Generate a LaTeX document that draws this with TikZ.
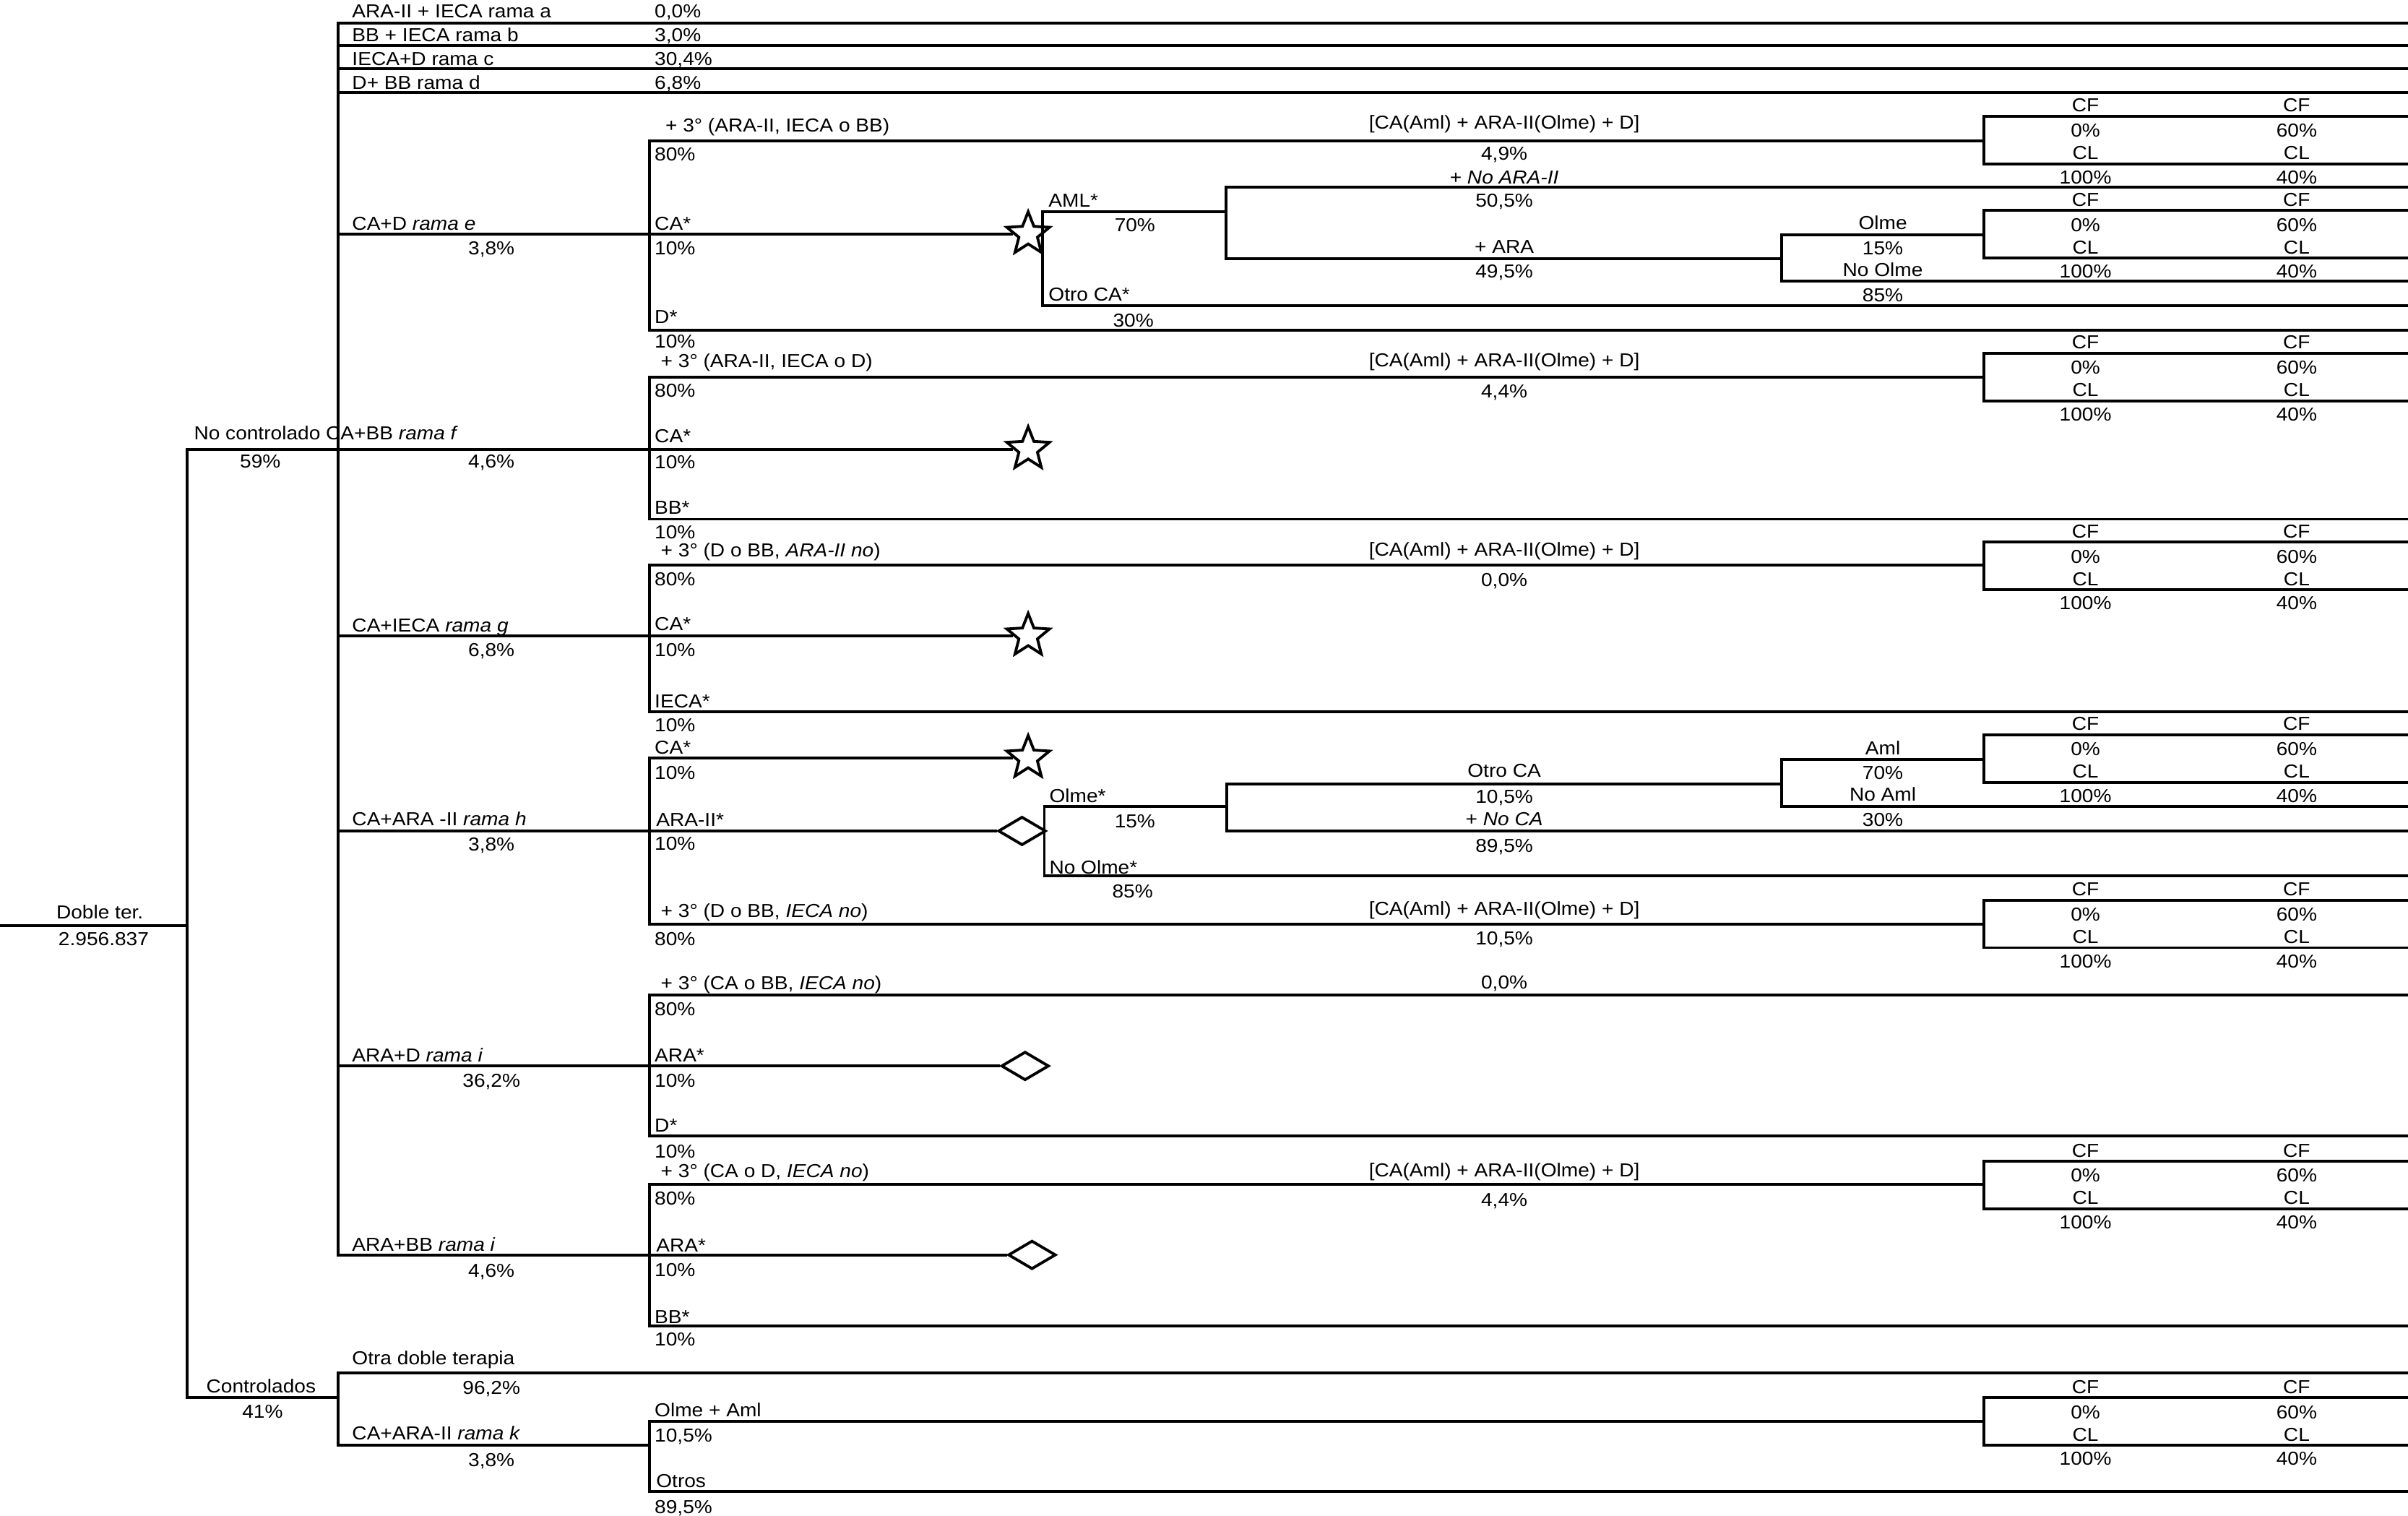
\documentclass[tikz,border=0pt]{standalone}
\usepackage{fontspec}
\setmainfont[FakeStretch=1.08]{Liberation Sans}
\usetikzlibrary{shapes.geometric}
\newcounter{nn}
\newcommand\fs{\fontsize{7.4}{8.9}\selectfont}
\newcommand\txl[3]{\stepcounter{nn}\node[anchor=base west] (t\arabic{nn}) at (#1,#2+4.4) {#3};}
\newcommand\txc[3]{\stepcounter{nn}\node[anchor=base] (t\arabic{nn}) at (#1,#2+4.4) {#3};}
\newcommand\cfbox[2]{%
  \coordinate (#1t) at (1292,#2);
  \coordinate (#1b) at (1292,#2+31);
  \draw[ln] (#1t -| E) -- (#1t) -- (#1b) -- (#1b -| E);
  \txc{1358}{#2-7.2}{CF}\txc{1495.5}{#2-7.2}{CF}
  \txc{1358}{#2+9.2}{0\%}\txc{1495.5}{#2+9.2}{60\%}
  \txc{1358}{#2+23.8}{CL}\txc{1495.5}{#2+23.8}{CL}
  \txc{1358}{#2+39.6}{100\%}\txc{1495.5}{#2+39.6}{40\%}}
\newcommand\ccaml{[CA(Aml) + ARA-II(Olme) + D]}
\begin{document}
\begin{tikzpicture}[x=0.021257cm,y=-0.021257cm,
  ln/.style={line width=1.1pt,line cap=rect,line join=miter},
  lnb/.style={line width=1.1pt,line cap=butt},
  every node/.style={inner sep=0pt,font=\fs},
  starnode/.style={star,star points=5,star point ratio=2.3,draw,fill=white,line width=1.1pt,minimum size=0.62cm,inner sep=0pt},
  dianode/.style={diamond,draw,fill=white,line width=1.1pt,minimum width=0.66cm,minimum height=0.395cm,inner sep=0pt}]
\useasboundingbox (0,0) rectangle (1568,987);
\coordinate (E) at (1568,0);
\coordinate (B) at (1292,0);
% root
\coordinate (root) at (0,602.5);
\coordinate (v0) at (122,602.5);
\coordinate (v0t) at (122,292.5);
\coordinate (v0b) at (122,910);
\draw[ln] (root) -- (v0);
\draw[ln] (v0t) -- (v0b);
% level 1
\coordinate (ka) at (220,15);
\coordinate (kb) at (220,29.7);
\coordinate (kc) at (220,44.8);
\coordinate (kd) at (220,60.4);
\coordinate (ke) at (220,152.5);
\coordinate (kf) at (220,292.5);
\coordinate (kg) at (220,414);
\coordinate (kh) at (220,541);
\coordinate (ki) at (220,694);
\coordinate (kj) at (220,817);
\draw[ln] (ka -| E) -- (ka) -- (kj);
\foreach \k in {kb,kc,kd} \draw[ln] (\k) -- (\k -| E);
% fork coordinates
\coordinate (fe) at (423,152.5);
\coordinate (ff) at (423,292.5);
\coordinate (fg) at (423,414);
\coordinate (fh) at (423,541);
\coordinate (fi) at (423,694);
\coordinate (fj) at (423,817);
\draw[ln] (v0t) -- (kf) -- (ff);
\draw[ln] (ke) -- (fe);
\draw[ln] (kg) -- (fg);
\draw[ln] (kh) -- (fh);
\draw[ln] (ki) -- (fi);
\draw[ln] (kj) -- (fj);
% ---- rama e
\coordinate (fe1) at (423,91.7);
\coordinate (fe3) at (423,214.8);
\draw[ln] (fe1 -| B) -- (fe1) -- (fe3) -- (fe3 -| E);
\cfbox{x1}{75.7}
\node[starnode] (se) at (669.5,152.5) {};
\draw[lnb] (fe) -- (se);
\coordinate (ae) at (679,138);
\coordinate (oe) at (679,199);
\coordinate (m1) at (798.5,138);
\coordinate (m1t) at (798.5,122);
\coordinate (m1b) at (798.5,168.5);
\coordinate (p1) at (1160,168.5);
\coordinate (p1t) at (1160,152.7);
\coordinate (p1b) at (1160,183);
\draw[ln] (m1) -- (ae) -- (oe) -- (oe -| E);
\draw[ln] (m1t -| E) -- (m1t) -- (m1b) -- (p1);
\draw[ln] (p1t -| B) -- (p1t) -- (p1b) -- (p1b -| E);
\cfbox{x2}{137}
% ---- rama f
\coordinate (ff1) at (423,245.5);
\coordinate (ff3) at (423,338);
\draw[ln] (ff1 -| B) -- (ff1) -- (ff3) -- (ff3 -| E);
\cfbox{x3}{230}
\node[starnode] (sf) at (669.5,292.5) {};
\draw[lnb] (ff) -- (sf);
% ---- rama g
\coordinate (fg1) at (423,368);
\coordinate (fg3) at (423,463.5);
\draw[ln] (fg1 -| B) -- (fg1) -- (fg3) -- (fg3 -| E);
\cfbox{x4}{353}
\node[starnode] (sg) at (669.5,414) {};
\draw[lnb] (fg) -- (sg);
% ---- rama h
\coordinate (fh1) at (423,493.5);
\coordinate (fh3) at (423,601.5);
\draw[ln] (fh1) -- (fh3) -- (fh3 -| B);
\cfbox{x6}{586}
\node[starnode] (sh) at (669.5,493.5) {};
\draw[lnb] (fh1) -- (sh);
\node[dianode] (dh) at (665.5,541) {};
\draw[lnb] (fh) -- (dh);
\coordinate (oh1) at (680,525);
\coordinate (oh2) at (680,570);
\coordinate (q1) at (799,525);
\coordinate (q1t) at (799,510.4);
\coordinate (q1b) at (799,541);
\coordinate (p2) at (1160,510.4);
\coordinate (p2t) at (1160,494.3);
\coordinate (p2b) at (1160,525);
\draw[ln] (q1) -- (oh1) -- (oh2) -- (oh2 -| E);
\draw[ln] (q1b -| E) -- (q1b) -- (q1t) -- (p2);
\draw[ln] (p2t -| B) -- (p2t) -- (p2b) -- (p2b -| E);
\cfbox{x5}{478.3}
% ---- rama i (ARA+D)
\coordinate (fi1) at (423,648);
\coordinate (fi3) at (423,739.5);
\draw[ln] (fi1 -| E) -- (fi1) -- (fi3) -- (fi3 -| E);
\node[dianode] (di) at (667.5,694) {};
\draw[lnb] (fi) -- (di);
% ---- rama i (ARA+BB)
\coordinate (fj1) at (423,771.2);
\coordinate (fj3) at (423,863.3);
\draw[ln] (fj1 -| B) -- (fj1) -- (fj3) -- (fj3 -| E);
\cfbox{x7}{756}
\node[dianode] (dj) at (672,817) {};
\draw[lnb] (fj) -- (dj);
% ---- controlados
\coordinate (kco) at (220,910);
\coordinate (kl) at (220,894);
\coordinate (kk) at (220,940.7);
\coordinate (fk) at (423,940.7);
\coordinate (fk1) at (423,925.3);
\coordinate (fk3) at (423,971.2);
\draw[ln] (v0b) -- (kco);
\draw[ln] (kl -| E) -- (kl) -- (kk) -- (fk);
\draw[ln] (fk1 -| B) -- (fk1) -- (fk3) -- (fk3 -| E);
\cfbox{x8}{909.9}
% ================= texts
\txc{65}{594}{Doble ter.}
\txc{67.5}{611}{2.956.837}
\txl{126}{282}{No controlado CA+BB \textit{rama f}}
\txc{169.5}{300.3}{59\%}
\txc{170}{902.5}{Controlados}
\txc{171}{918.8}{41\%}
% level 1 labels
\txl{229}{7.2}{ARA-II + IECA rama a}\txl{426}{7.2}{0,0\%}
\txl{229}{22.6}{BB + IECA rama b}\txl{426}{22.6}{3,0\%}
\txl{229}{38}{IECA+D rama c}\txl{426}{38}{30,4\%}
\txl{229}{53.6}{D+ BB rama d}\txl{426}{53.6}{6,8\%}
\txl{229}{145.5}{CA+D \textit{rama e}}\txc{320}{161.5}{3,8\%}
\txc{320}{300.3}{4,6\%}
\txl{229}{407}{CA+IECA \textit{rama g}}\txc{320}{423}{6,8\%}
\txl{229}{533}{CA+ARA -II \textit{rama h}}\txc{320}{549.5}{3,8\%}
\txl{229}{687}{ARA+D \textit{rama i}}\txc{320}{703.5}{36,2\%}
\txl{229}{810}{ARA+BB \textit{rama i}}\txc{320}{827}{4,6\%}
\txl{229}{884}{Otra doble terapia}\txc{320}{903.5}{96,2\%}
\txl{229}{933}{CA+ARA-II \textit{rama k}}\txc{320}{950.5}{3,8\%}
% rama e
\txl{433}{81.5}{+ 3° (ARA-II, IECA o BB)}
\txl{426}{100.4}{80\%}
\txl{426}{145.5}{CA*}
\txl{426}{161.5}{10\%}
\txl{426}{206}{D*}
\txl{426}{222.3}{10\%}
\txc{979.5}{79.5}{\ccaml}
\txc{979.5}{100}{4,9\%}
\txc{979.5}{115.3}{+ \textit{No ARA-II}}
\txc{979.5}{130.2}{50,5\%}
\txc{979.5}{160.7}{+ ARA}
\txc{979.5}{176.4}{49,5\%}
\txl{682.5}{130.2}{AML*}
\txc{739}{146.6}{70\%}
\txl{682.5}{191.6}{Otro CA*}
\txc{738}{208.3}{30\%}
\txc{1226}{145}{Olme}
\txc{1226}{161.5}{15\%}
\txc{1226}{175.6}{No Olme}
\txc{1226}{192}{85\%}
% rama f
\txl{430}{235}{+ 3° (ARA-II, IECA o D)}
\txl{426}{254}{80\%}
\txl{426}{283.7}{CA*}
\txl{426}{300.5}{10\%}
\txl{426}{330.5}{BB*}
\txl{426}{346.4}{10\%}
\txc{979.5}{234.5}{\ccaml}
\txc{979.5}{254.5}{4,4\%}
% rama g
\txl{430}{358}{+ 3° (D o BB, \textit{ARA-II no})}
\txl{426}{377}{80\%}
\txl{426}{406}{CA*}
\txl{426}{423}{10\%}
\txl{426}{456.6}{IECA*}
\txl{426}{471.9}{10\%}
\txc{979.5}{357.5}{\ccaml}
\txc{979.5}{377.5}{0,0\%}
% rama h
\txl{426}{486.5}{CA*}
\txl{426}{503}{10\%}
\txl{427}{533.5}{ARA-II*}
\txl{426}{549}{10\%}
\txl{683}{518}{Olme*}
\txc{739}{534.4}{15\%}
\txl{683}{564.5}{No Olme*}
\txc{737.5}{580.2}{85\%}
\txc{979.5}{501.8}{Otro CA}
\txc{979.5}{518.3}{10,5\%}
\txc{979.5}{532.9}{+ \textit{No CA}}
\txc{979.5}{550.4}{89,5\%}
\txc{1226}{487}{Aml}
\txc{1226}{503}{70\%}
\txc{1226}{517.2}{No Aml}
\txc{1226}{533.6}{30\%}
\txl{430}{593}{+ 3° (D o BB, \textit{IECA no})}
\txl{426}{611}{80\%}
\txc{979.5}{591.5}{\ccaml}
\txc{979.5}{610.8}{10,5\%}
% rama i (ARA+D)
\txl{430}{640}{+ 3° (CA o BB, \textit{IECA no})}
\txl{426}{657}{80\%}
\txc{979.5}{639.5}{0,0\%}
\txl{426}{687}{ARA*}
\txl{426}{703.5}{10\%}
\txl{426}{732.6}{D*}
\txl{426}{749.7}{10\%}
% rama i (ARA+BB)
\txl{430}{762}{+ 3° (CA o D, \textit{IECA no})}
\txl{426}{780}{80\%}
\txc{979.5}{761.5}{\ccaml}
\txc{979.5}{781}{4,4\%}
\txl{427}{810.5}{ARA*}
\txl{426}{826.7}{10\%}
\txl{426}{857}{BB*}
\txl{426}{871.7}{10\%}
% rama k
\txl{426}{918}{Olme + Aml}
\txl{426}{934.5}{10,5\%}
\txl{427}{964}{Otros}
\txl{426}{981}{89,5\%}
\end{tikzpicture}
\end{document}
